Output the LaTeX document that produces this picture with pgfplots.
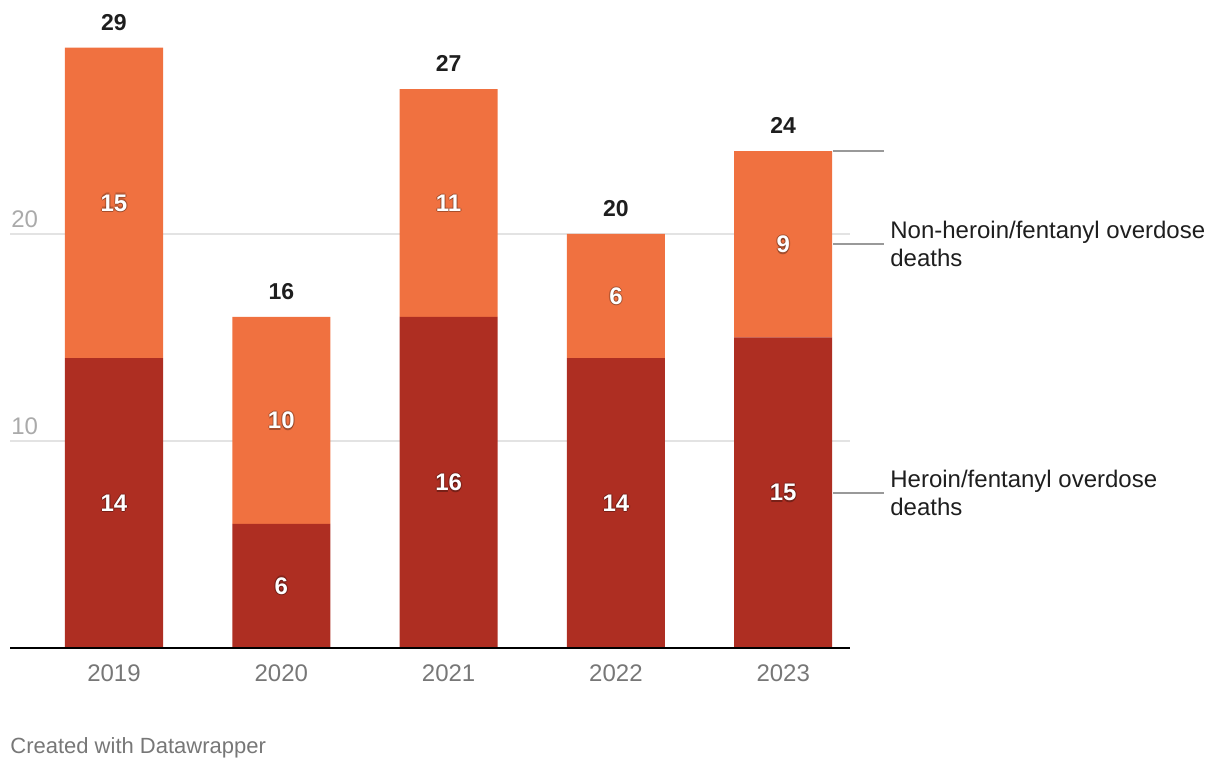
\documentclass[border=0pt]{standalone}
\usepackage{pgfplots}
\pgfplotsset{compat=1.18}
\usepackage{fontspec}
\setmainfont{Liberation Sans}

\definecolor{heroin}{HTML}{AE2E22}
\definecolor{other}{HTML}{F07140}
\definecolor{ticktxt}{HTML}{777777}
\definecolor{ylabtxt}{HTML}{AAAAAA}
\definecolor{gridc}{HTML}{E3E3E3}
\definecolor{leader}{HTML}{999999}
\definecolor{txt}{HTML}{1E1E1E}

% white bold label with a soft dark halo, placed at a named coordinate
\newcommand{\seglabel}[2]{%
  \node[font=\fontsize{12}{14}\selectfont\bfseries, text=black, opacity=0.22, xshift=0.6pt] at (#1) {#2};
  \node[font=\fontsize{12}{14}\selectfont\bfseries, text=black, opacity=0.22, xshift=-0.6pt] at (#1) {#2};
  \node[font=\fontsize{12}{14}\selectfont\bfseries, text=black, opacity=0.22, yshift=0.6pt] at (#1) {#2};
  \node[font=\fontsize{12}{14}\selectfont\bfseries, text=black, opacity=0.30, yshift=-0.8pt] at (#1) {#2};
  \node[font=\fontsize{12}{14}\selectfont\bfseries, text=white] at (#1) {#2};
}
\newcommand{\toplabel}[3]{%
  \node[font=\fontsize{11.5}{13}\selectfont\bfseries, text=txt, yshift=12.8pt] at (axis cs:#1,#2) {#3};
}

\begin{document}
\begin{tikzpicture}
\useasboundingbox (0,0) rectangle (610pt,385pt);
\begin{axis}[
    at={(5pt,61pt)}, anchor=south west,
    scale only axis,
    width=420pt, height=310.5pt,
    xmin=-0.6216, xmax=4.399,
    ymin=0, ymax=30,
    clip=false,
    ybar stacked,
    bar width=49pt,
    axis line style={draw=none},
    tick style={draw=none},
    xtick={0,1,2,3,4},
    xticklabels={2019,2020,2021,2022,2023},
    xticklabel style={font=\fontsize{12}{14}\selectfont, text=ticktxt, anchor=center, yshift=-12.5pt},
    ytick={10,20},
    yticklabels={},
    ymajorgrids,
    grid style={draw=gridc, line width=1pt},
    /pgf/number format/assume math mode=true,
]
\addplot[fill=heroin, draw=none] coordinates {(0,14) (1,6) (2,16) (3,14) (4,15)};
\addplot[fill=other, draw=none] coordinates {(0,15) (1,10) (2,11) (3,6) (4,9)};

% anchors for labels drawn on top after the axis
\coordinate (bl) at (axis cs:-0.6216,0);
\coordinate (br) at (axis cs:4.399,0);
\coordinate (a0) at (axis cs:0,7);    \coordinate (b0) at (axis cs:0,21.5);
\coordinate (a1) at (axis cs:1,3);    \coordinate (b1) at (axis cs:1,11);
\coordinate (a2) at (axis cs:2,8);    \coordinate (b2) at (axis cs:2,21.5);
\coordinate (a3) at (axis cs:3,7);    \coordinate (b3) at (axis cs:3,17);
\coordinate (a4) at (axis cs:4,7.5);  \coordinate (b4) at (axis cs:4,19.5);

% y labels above grid lines
\node[anchor=south west, inner sep=0pt, font=\fontsize{12}{14}\selectfont, text=ylabtxt, yshift=3pt, xshift=0.5pt] at (axis cs:-0.6216,20) {20};
\node[anchor=south west, inner sep=0pt, font=\fontsize{12}{14}\selectfont, text=ylabtxt, yshift=3pt, xshift=0.5pt] at (axis cs:-0.6216,10) {10};

% totals
\toplabel{0}{29}{29}
\toplabel{1}{16}{16}
\toplabel{2}{27}{27}
\toplabel{3}{20}{20}
\toplabel{4}{24}{24}

% leader lines and series labels
\draw[leader, line width=1pt] (axis cs:4.298,24) -- (axis cs:4.6025,24);
\draw[leader, line width=1pt] (axis cs:4.298,19.5) -- (axis cs:4.6025,19.5);
\draw[leader, line width=1pt] (axis cs:4.298,7.5) -- (axis cs:4.6025,7.5);
\node[anchor=west, inner sep=0pt, align=left, text=txt, font=\fontsize{12}{14}\selectfont] at (axis cs:4.638,19.5) {Non-heroin/fentanyl overdose\\deaths};
\node[anchor=west, inner sep=0pt, align=left, text=txt, font=\fontsize{12}{14}\selectfont] at (axis cs:4.638,7.5) {Heroin/fentanyl overdose\\deaths};
\end{axis}

\draw[black, line width=1pt] (bl) -- (br);
\seglabel{a0}{14} \seglabel{b0}{15}
\seglabel{a1}{6}  \seglabel{b1}{10}
\seglabel{a2}{16} \seglabel{b2}{11}
\seglabel{a3}{14} \seglabel{b3}{6}
\seglabel{a4}{15} \seglabel{b4}{9}

\node[anchor=west, inner sep=0pt, text=ticktxt, font=\fontsize{11}{13}\selectfont] at (5pt,11pt) {Created with Datawrapper};
\end{tikzpicture}
\end{document}
